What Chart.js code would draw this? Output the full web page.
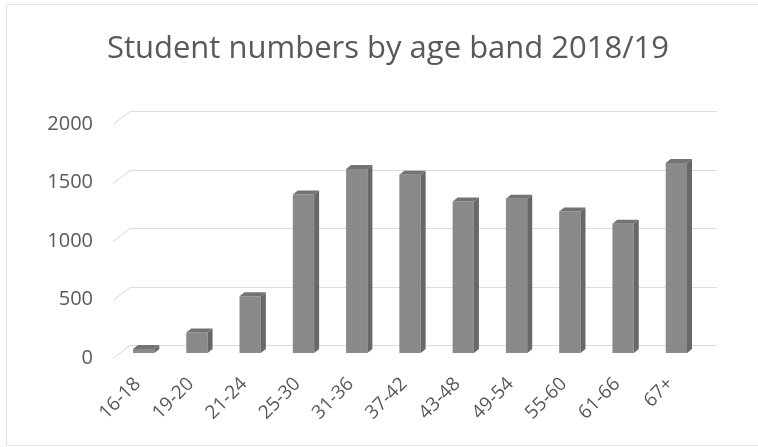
<!DOCTYPE html>
<html>
<head>
<meta charset="utf-8">
<script src="https://cdn.jsdelivr.net/npm/chart.js@4"></script>
<style>
html,body{margin:0;padding:0;background:#fff;}
canvas{display:block;}
</style>
</head>
<body>
<canvas id="c" width="758" height="447"></canvas>
<script>
const categories = ["16-18","19-20","21-24","25-30","31-36","37-42","43-48","49-54","55-60","61-66","67+"];
const studentNumbers = [35, 175, 485, 1355, 1575, 1525, 1295, 1320, 1210, 1105, 1625];
const yTicks = [0, 500, 1000, 1500, 2000];
const chartTitle = "Student numbers by age band 2018/19";

const WALL_DX = 13, WALL_DY = 13;   // back-wall offset
const BAR_DX = 5, BAR_DY = 4;       // bar depth
const BAR_LIFT = 5;                 // bars sit slightly behind the front floor edge

const threeD = {
  id: 'threeD',
  afterLayout(chart) {
    chart.scales.y._computeLabelArea = () => undefined;
  },
  beforeDraw(chart) {
    const ctx = chart.ctx;
    ctx.save();
    ctx.strokeStyle = '#e3e3e3';
    ctx.lineWidth = 1;
    ctx.strokeRect(6.5, 4.5, 760, 441);
    ctx.restore();
  },
  beforeDatasetsDraw(chart) {
    const ctx = chart.ctx;
    const ys = chart.scales.y;
    const area = chart.chartArea;
    ctx.save();
    ctx.lineWidth = 1;
    yTicks.forEach(v => {
      const y = Math.round(ys.getPixelForValue(v)) + 0.5;
      ctx.strokeStyle = '#d6d6d6';
      ctx.beginPath();
      ctx.moveTo(area.left - 4, y);
      ctx.lineTo(area.left + WALL_DX, y - WALL_DY);
      ctx.stroke();
      ctx.strokeStyle = '#dcdcdc';
      ctx.beginPath();
      ctx.moveTo(area.left + WALL_DX, y - WALL_DY);
      ctx.lineTo(area.right + WALL_DX + 1, y - WALL_DY);
      ctx.stroke();
    });
    ctx.restore();
    ctx.save();
    ctx.translate(0, -BAR_LIFT);
  },
  afterDatasetsDraw(chart) {
    const ctx = chart.ctx;
    const meta = chart.getDatasetMeta(0);
    meta.data.forEach(el => {
      const p = el.getProps(['x','y','base','width'], true);
      const x0 = p.x - p.width / 2, x1 = p.x + p.width / 2;
      const yt = p.y, yb = p.base;
      ctx.fillStyle = '#686868';
      ctx.beginPath();
      ctx.moveTo(x1, yt);
      ctx.lineTo(x1 + BAR_DX, yt - BAR_DY);
      ctx.lineTo(x1 + BAR_DX, yb - BAR_DY);
      ctx.lineTo(x1, yb);
      ctx.closePath();
      ctx.fill();
      ctx.fillStyle = '#737373';
      ctx.beginPath();
      ctx.moveTo(x0, yt);
      ctx.lineTo(x0 + BAR_DX, yt - BAR_DY);
      ctx.lineTo(x1 + BAR_DX, yt - BAR_DY);
      ctx.lineTo(x1, yt);
      ctx.closePath();
      ctx.fill();
    });
    ctx.restore();
  }
};

new Chart(document.getElementById('c'), {
  type: 'bar',
  data: {
    labels: categories,
    datasets: [{
      data: studentNumbers,
      backgroundColor: '#8a8a8a',
      borderWidth: 0,
      barPercentage: 0.4,
      categoryPercentage: 1.0
    }]
  },
  plugins: [threeD],
  options: {
    responsive: false,
    animation: false,
    devicePixelRatio: 1,
    layout: { padding: { left: 73, right: 55, top: 0, bottom: 0 } },
    plugins: {
      legend: { display: false },
      tooltip: { enabled: false },
      title: {
        display: true,
        text: chartTitle,
        color: '#595959',
        font: { family: 'Open Sans', size: 31, weight: 'normal' },
        padding: { top: 31, bottom: 56 }
      }
    },
    scales: {
      x: {
        grid: { display: false, drawTicks: false },
        border: { display: false },
        afterFit(scale) { scale.height = 89; },
        ticks: {
          autoSkip: false,
          minRotation: 45,
          maxRotation: 45,
          padding: 15,
          labelOffset: -6,
          color: '#595959',
          font: { family: 'Open Sans', size: 19 }
        }
      },
      y: {
        min: 0,
        max: 2000,
        grid: { display: false, drawTicks: false },
        border: { display: false },
        afterFit(scale) { scale.width = 44; },
        afterBuildTicks(scale) { scale.ticks = yTicks.map(v => ({ value: v })); },
        ticks: {
          padding: 24,
          color: '#595959',
          font: { family: 'Open Sans', size: 20 },
          callback: (v) => String(v)
        }
      }
    }
  }
});
</script>
</body>
</html>
